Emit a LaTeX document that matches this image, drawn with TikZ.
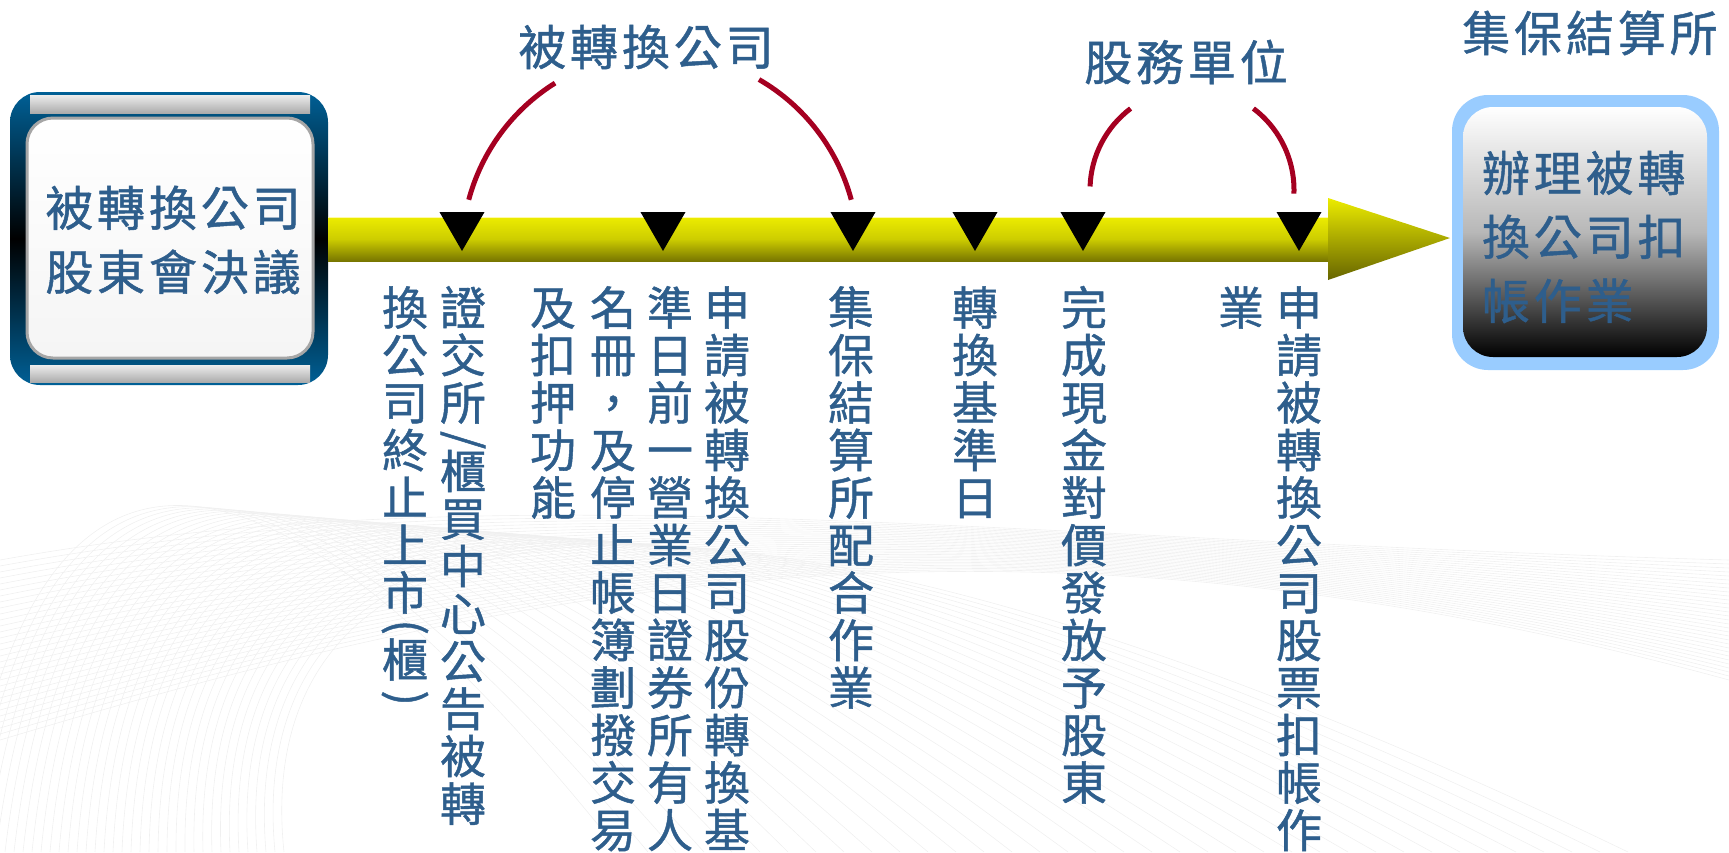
\documentclass[tikz,border=0pt]{standalone}
\usepackage{fontspec}
\setmainfont[FakeBold=1]{Noto Sans CJK TC}
\newfontfamily\cjk[LetterSpace=8,FakeBold=1]{Noto Sans CJK TC}
\usetikzlibrary{shapes.geometric}

\definecolor{txtblue}{RGB}{46,94,140}
\definecolor{archred}{RGB}{165,0,33}
\definecolor{boxblue}{RGB}{0,96,150}
\definecolor{skyblue}{RGB}{153,204,255}
\definecolor{barlight}{RGB}{236,236,0}
\definecolor{barmid}{RGB}{205,205,0}
\definecolor{bardark}{RGB}{120,118,0}

\newcommand\vturn[1]{\rotatebox[origin=c]{-90}{#1}}
\setlength{\lineskiplimit}{-30pt}

\begin{document}
\begin{tikzpicture}[x=0.5pt,y=0.5pt,
  hlabel/.style={text=txtblue,font=\cjk\fontsize{24pt}{32pt}\selectfont,inner sep=0pt},
  vcol/.style={text=txtblue,font=\fontsize{23pt}{23.75pt}\selectfont,text width=24pt,align=center,inner sep=0pt,anchor=base},
  marker/.style={regular polygon,regular polygon sides=3,shape border rotate=180,fill=black,inner sep=0pt,minimum size=26pt},
  arch/.style={archred,line width=2.5pt},
  swirl/.style={black!6,line width=0.3pt}]
  \useasboundingbox (0,0) rectangle (1729,-852);

  % faint background
  \foreach \k in {0,...,36}
    \draw[swirl] (-40+\k*9,-852) .. controls (30+\k*6,-380-\k*3) and (260+\k*12,-400) .. (620+\k*28,-852);
  \foreach \k in {0,...,30}
    \draw[swirl] (0,-560-\k*6) .. controls (500,-470-\k*4) and (1000,-540+\k*2) .. (1729,-560-\k*4);

  % left box
  \node[rounded corners=15pt,minimum width=159pt,minimum height=146.5pt,top color=boxblue,bottom color=boxblue,middle color=black] (lbox) at (169,-238.5) {};
  \shade[top color=gray!15,bottom color=gray!65] (30,-95) rectangle (310,-113);
  \shade[top color=gray!15,bottom color=gray!65] (30,-365) rectangle (310,-382);
  \node[draw=gray!70,line width=1.5pt,rounded corners=13pt,minimum width=143pt,minimum height=120pt,top color=white,bottom color=gray!8] (lin) at (170,-238) {};
  \node[hlabel,align=center] (ltext) at (173,-240) {被轉換公司\\股東會決議};

  % right box
  \node[rounded corners=18pt,fill=skyblue,minimum width=133.5pt,minimum height=137.5pt] (rbox) at (1585.5,-232.5) {};
  \node[rounded corners=15pt,minimum width=122pt,minimum height=125pt,top color=white,bottom color=black,middle color=black!28] (rin) at (1585,-232) {};
  \node[hlabel,text width=108pt,align=left] (rtext) at (1590,-237) {辦理被轉\\換公司扣\\帳作業};
  \node[hlabel] (lab3) at (1590,-33) {集保結算所};

  % time line
  \coordinate (tip) at (1450,-238);
  \shade[top color=barlight,bottom color=bardark,middle color=barmid] (328,-217) rectangle (1328,-261);
  \draw[yellow!35!white,line width=0.5pt] (328,-217.5) -- (1328,-217.5);
  \shade[top color=barlight,bottom color=bardark!85!black] (1328,-198) -- (tip) -- (1328,-280) -- cycle;

  \foreach \n/\x in {1/462,2/663,3/853,4/975,5/1083,6/1299}
    \node[marker] (t\n) at (\x,-225) {};

  % arches
  \node[hlabel] (lab1) at (646,-47) {被轉換公司};
  \node[hlabel] (lab2) at (1186,-62) {股務單位};
  \coordinate (c1) at (660,-251);
  \coordinate (c2) at (1192,-190);
  \draw[arch] (c1) ++(165:198) arc[start angle=165,end angle=122,radius=198];
  \draw[arch] (c1) ++(60:198) arc[start angle=60,end angle=15,radius=198];
  \draw[arch] (c2) ++(178:102) arc[start angle=178,end angle=127,radius=102];
  \draw[arch] (c2) ++(53:102) arc[start angle=53,end angle=-2,radius=102];

  % vertical texts
  \node[vcol] (g1a) at (463,-325) {證\\交\\所\\[-6.6pt]\vturn{/}\\[-6.6pt]櫃\\買\\中\\心\\公\\告\\被\\轉};
  \node[vcol] (g1b) at (405,-325) {換\\公\\司\\終\\止\\上\\市\\[-8pt]\vturn{(}\\[-6pt]櫃\\[-6pt]\vturn{)}};
  \node[vcol] (g2a) at (727,-325) {申\\請\\被\\轉\\換\\公\\司\\股\\份\\轉\\換\\基};
  \node[vcol] (g2b) at (670,-325) {準\\日\\前\\一\\營\\業\\日\\證\\券\\所\\有\\人};
  \node[vcol] (g2c) at (613,-325) {名\\冊\\，\\及\\停\\止\\帳\\簿\\劃\\撥\\交\\易};
  \node[vcol] (g2d) at (553,-325) {及\\扣\\押\\功\\能};
  \node[vcol] (g3) at (851,-325) {集\\保\\結\\算\\所\\配\\合\\作\\業};
  \node[vcol] (g4) at (975,-325) {轉\\換\\基\\準\\日};
  \node[vcol] (g5) at (1084,-325) {完\\成\\現\\金\\對\\價\\發\\放\\予\\股\\東};
  \node[vcol] (g6a) at (1299,-325) {申\\請\\被\\轉\\換\\公\\司\\股\\票\\扣\\帳\\作};
  \node[vcol] (g6b) at (1241,-325) {業};
\end{tikzpicture}
\end{document}
